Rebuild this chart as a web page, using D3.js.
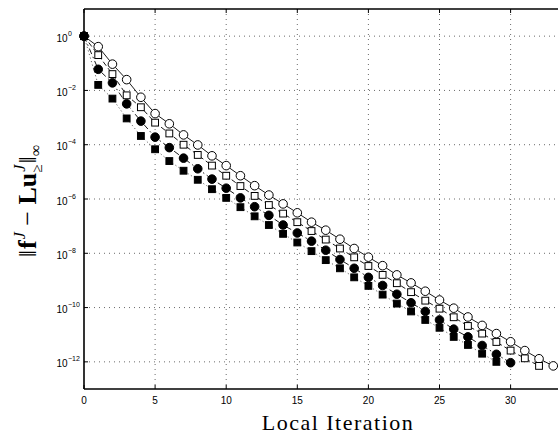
<!DOCTYPE html>
<html>
<head>
<meta charset="utf-8">
<script src="https://cdn.jsdelivr.net/npm/d3@7/dist/d3.min.js"></script>
<style>
  html, body { margin: 0; padding: 0; background: #fff; }
  svg { display: block; }
</style>
</head>
<body>
<svg id="chart" width="558" height="440"></svg>
<script>
// Residual history per local iteration for four variants
const openCircles = [1, 4.1e-1, 9.3e-2, 2.5e-2, 5.6e-3, 1.4e-3, 5.9e-4, 2.3e-4, 9.8e-5, 3.9e-5,
  1.7e-5, 7.2e-6, 3.1e-6, 1.4e-6, 6.6e-7, 3.1e-7, 1.4e-7, 7.1e-8, 3.3e-8, 1.5e-8,
  7.2e-9, 3.5e-9, 1.6e-9, 8.1e-10, 4.0e-10, 1.9e-10, 9.5e-11, 4.5e-11, 2.2e-11, 1.1e-11,
  5.5e-12, 2.6e-12, 1.3e-12, 7.1e-13];
const openSquares = [1, 2.0e-1, 4.0e-2, 6.6e-3, 2.4e-3, 6.5e-4, 2.6e-4, 1.0e-4, 4.2e-5, 1.7e-5,
  7.2e-6, 3.0e-6, 1.3e-6, 6.0e-7, 2.9e-7, 1.4e-7, 6.6e-8, 3.2e-8, 1.5e-8, 7.1e-9,
  3.4e-9, 1.6e-9, 7.9e-10, 3.7e-10, 1.8e-10, 9.1e-11, 4.4e-11, 2.1e-11, 1.1e-11, 5.4e-12,
  2.6e-12, 1.35e-12, 7.1e-13];
const filledCircles = [1, 6.0e-2, 1.9e-2, 3.2e-3, 7.4e-4, 1.9e-4, 7.8e-5, 3.2e-5, 1.3e-5, 5.4e-6,
  2.5e-6, 1.1e-6, 5.2e-7, 2.5e-7, 1.1e-7, 5.6e-8, 2.8e-8, 1.3e-8, 5.9e-9, 2.8e-9,
  1.3e-9, 6.5e-10, 3.1e-10, 1.5e-10, 7.2e-11, 3.5e-11, 1.6e-11, 8.3e-12, 4.0e-12, 1.9e-12,
  9.3e-13];
const filledSquares = [1, 1.6e-2, 5.0e-3, 9.3e-4, 2.1e-4, 6.8e-5, 2.5e-5, 1.1e-5, 5.1e-6, 2.3e-6,
  1.1e-6, 5.0e-7, 2.3e-7, 1.1e-7, 5.2e-8, 2.5e-8, 1.2e-8, 5.6e-9, 2.8e-9, 1.3e-9,
  6.3e-10, 3.0e-10, 1.4e-10, 7.2e-11, 3.5e-11, 1.8e-11, 8.3e-12, 4.2e-12, 2.0e-12, 1.0e-12];

const xTicks = [0, 5, 10, 15, 20, 25, 30];
const yTickExponents = [0, -2, -4, -6, -8, -10, -12];

const svg = d3.select("#chart");
const plotLeft = 84, plotTop = 9, plotBottom = 389, plotRight = 560;

const x = d3.scaleLinear().domain([0, 34]).range([plotLeft, plotLeft + 34 * 14.22]);
const y = d3.scaleLog().domain([1e-13, 1e1]).range([plotBottom, plotTop]);

// dotted grid
const grid = svg.append("g").attr("stroke", "#6a6a6a").attr("stroke-width", 1)
  .attr("stroke-dasharray", "1,4").attr("fill", "none");
xTicks.filter(d => d > 0).forEach(d => {
  grid.append("line").attr("x1", x(d)).attr("x2", x(d)).attr("y1", plotTop).attr("y2", plotBottom);
});
yTickExponents.forEach(e => {
  const yy = y(Math.pow(10, e));
  grid.append("line").attr("x1", plotLeft).attr("x2", plotRight).attr("y1", yy).attr("y2", yy);
});

// series: lines first, then markers
const series = [
  { data: openCircles, dash: null, lineColor: "#000", marker: "circle", fill: "#fff" },
  { data: openSquares, dash: "5,3", lineColor: "#000", marker: "square", fill: "#fff" },
  { data: filledSquares, dash: "1.2,2.5", lineColor: "#555", marker: "square", fill: "#000" },
  { data: filledCircles, dash: "6,3,1.5,3", lineColor: "#000", marker: "circle", fill: "#000" }
];

const line = d3.line().x((d, i) => x(i)).y(d => y(d));
series.forEach(s => {
  svg.append("path").datum(s.data).attr("d", line)
    .attr("fill", "none").attr("stroke", s.lineColor).attr("stroke-width", 0.9)
    .attr("stroke-dasharray", s.dash);
});
series.forEach(s => {
  const g = svg.append("g");
  if (s.marker === "circle") {
    g.selectAll("circle").data(s.data).join("circle")
      .attr("cx", (d, i) => x(i)).attr("cy", d => y(d)).attr("r", 4.3)
      .attr("fill", s.fill).attr("stroke", "#000").attr("stroke-width", 1);
  } else {
    g.selectAll("rect").data(s.data).join("rect")
      .attr("x", (d, i) => x(i) - 3.4).attr("y", d => y(d) - 3.4)
      .attr("width", 6.8).attr("height", 6.8)
      .attr("fill", s.fill).attr("stroke", "#000").attr("stroke-width", 1);
  }
});

// axes frame (left, top, bottom)
const frame = svg.append("g").attr("stroke", "#000").attr("stroke-width", 1.6);
frame.append("line").attr("x1", plotLeft).attr("x2", plotLeft).attr("y1", plotTop).attr("y2", plotBottom);
frame.append("line").attr("x1", plotLeft).attr("x2", plotRight).attr("y1", plotTop).attr("y2", plotTop);
frame.append("line").attr("x1", plotLeft).attr("x2", plotRight).attr("y1", plotBottom).attr("y2", plotBottom);

// inward tick marks
const ticks = svg.append("g").attr("stroke", "#000").attr("stroke-width", 1);
xTicks.forEach(d => {
  ticks.append("line").attr("x1", x(d)).attr("x2", x(d)).attr("y1", plotBottom).attr("y2", plotBottom - 4);
  ticks.append("line").attr("x1", x(d)).attr("x2", x(d)).attr("y1", plotTop).attr("y2", plotTop + 4);
});
yTickExponents.forEach(e => {
  const yy = y(Math.pow(10, e));
  ticks.append("line").attr("x1", plotLeft).attr("x2", plotLeft + 4).attr("y1", yy).attr("y2", yy);
});

// tick labels
const tickFont = "'Liberation Sans', Arial, sans-serif";
svg.append("g").selectAll("text").data(xTicks).join("text")
  .attr("x", d => x(d)).attr("y", 404).attr("text-anchor", "middle")
  .attr("font-family", tickFont).attr("font-size", 10).attr("fill", "#000")
  .text(d => d);

const yl = svg.append("g").attr("font-family", tickFont).attr("fill", "#000");
yTickExponents.forEach(e => {
  const yy = y(Math.pow(10, e));
  yl.append("text").attr("x", 67.5).attr("y", yy + 5.5).attr("text-anchor", "end")
    .attr("font-size", 10).text("10");
  yl.append("text").attr("x", 68).attr("y", yy - 0.5).attr("text-anchor", "start")
    .attr("font-size", 7).text(e === 0 ? "0" : "\u2212" + Math.abs(e));
});

// axis titles
const serif = "'Liberation Serif', 'DejaVu Serif', serif";
svg.append("text").attr("x", 338).attr("y", 430).attr("text-anchor", "middle")
  .attr("font-family", serif).attr("font-size", 22).attr("letter-spacing", 1.5).attr("fill", "#000")
  .text("Local Iteration");

const yt = svg.append("text")
  .attr("transform", "translate(36,201) rotate(-90)")
  .attr("text-anchor", "middle").attr("font-family", serif).attr("font-size", 26).attr("fill", "#000");
yt.append("tspan").text("\u2016");
yt.append("tspan").attr("font-weight", "bold").attr("dx", 1).text("f");
yt.append("tspan").attr("font-style", "italic").attr("font-size", 16).attr("dx", 1).attr("dy", -11).text("J");
yt.append("tspan").attr("dy", 11).text(" \u2212 ");
yt.append("tspan").attr("font-weight", "bold").text("Lu");
yt.append("tspan").attr("font-style", "italic").attr("font-size", 16).attr("dx", 1).attr("dy", -11).text("J");
yt.append("tspan").attr("font-size", 15).attr("dx", -8).attr("dy", 17).text("\u2265");
yt.append("tspan").attr("dx", 1).attr("dy", -6).text("\u2016");
yt.append("tspan").attr("font-size", 16).attr("dy", 5).text("\u221e");
</script>
</body>
</html>
